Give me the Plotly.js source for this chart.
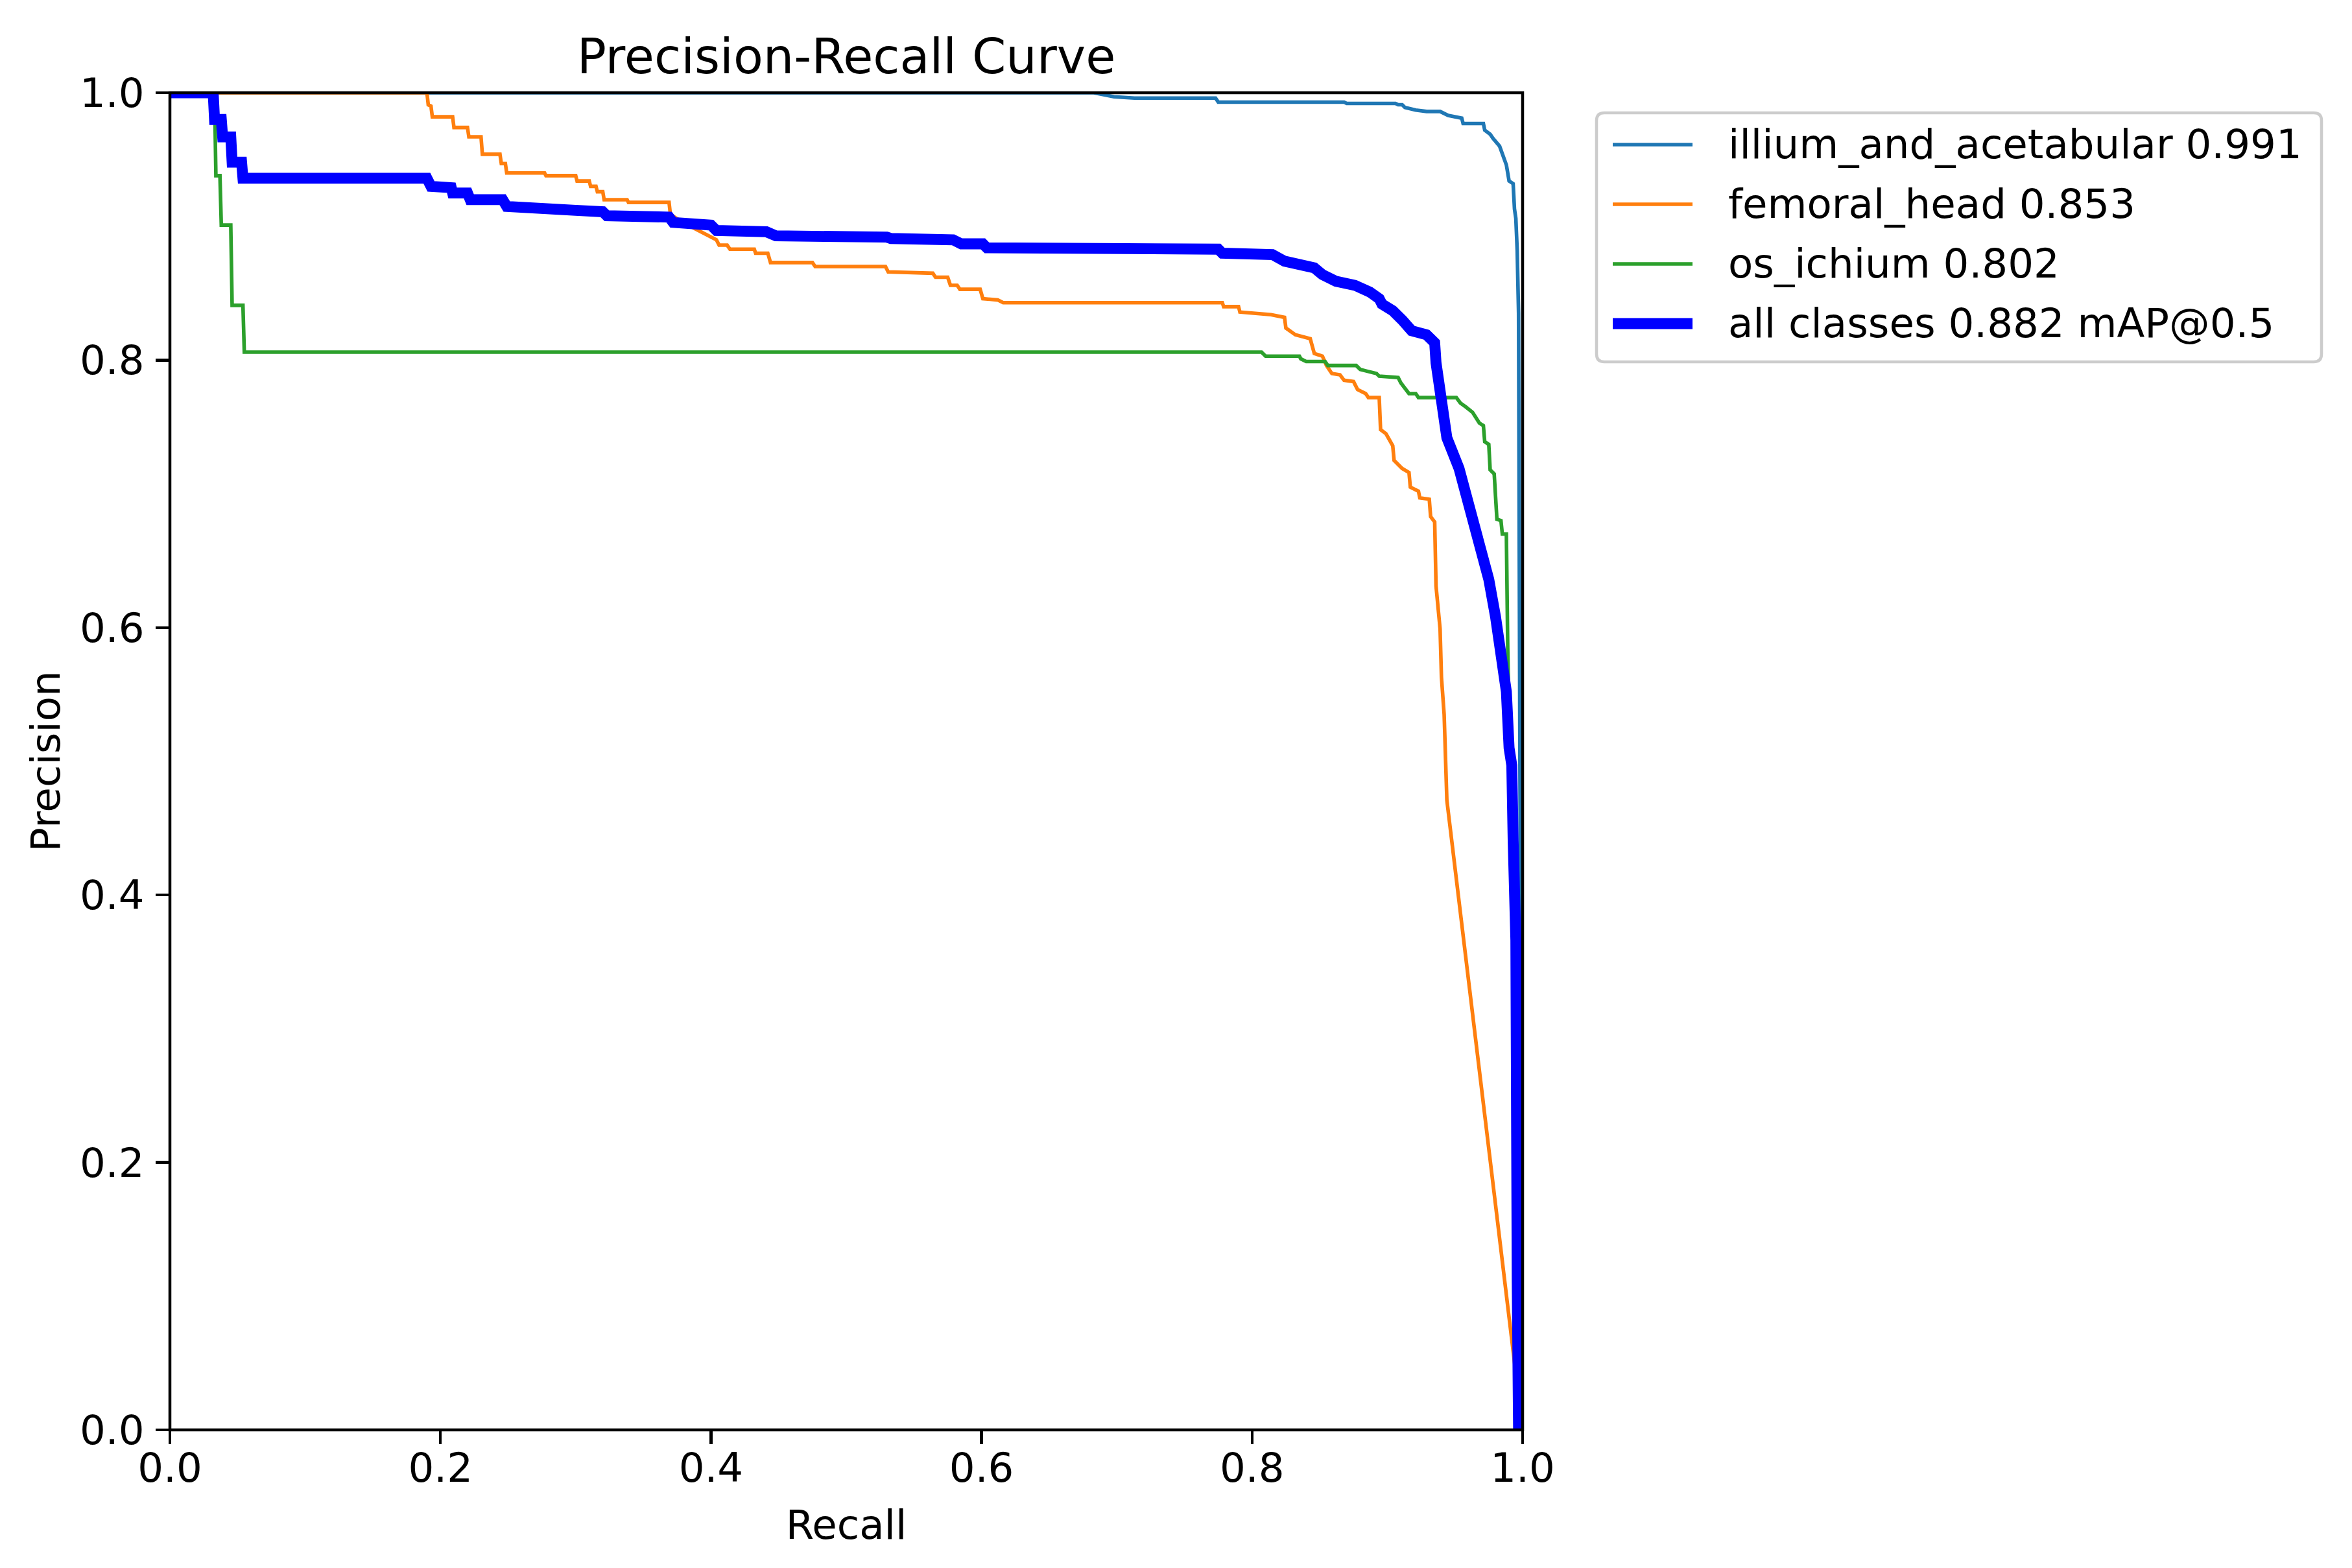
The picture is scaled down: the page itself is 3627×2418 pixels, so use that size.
<!DOCTYPE html>
<html>
<head>
<meta charset="utf-8">
<script src="https://cdn.plot.ly/plotly-3.0.1.min.js"></script>
<style>body{margin:0;background:#fff}</style>
</head>
<body>
<div id="pr-chart"></div>
<script>
// per-class precision/recall points
var classNames = ['illium_and_acetabular', 'femoral_head', 'os_ichium'];
var classAP = [0.991, 0.853, 0.802];
var meanAP = 0.882;
var classColors = ['#1f77b4', '#ff7f0e', '#2ca02c'];

var illiumRecall = [0, 0.683, 0.698, 0.713, 0.773, 0.775, 0.868, 0.870, 0.906, 0.908, 0.911, 0.913, 0.921, 0.929, 0.939, 0.945, 0.955, 0.956, 0.971, 0.972, 0.976, 0.978, 0.983, 0.986, 0.988, 0.990, 0.993, 0.994, 0.995, 0.996, 0.997, 0.998, 1.0];
var illiumPrecision = [1.0, 1.0, 0.997, 0.996, 0.996, 0.993, 0.993, 0.992, 0.992, 0.991, 0.991, 0.989, 0.987, 0.986, 0.986, 0.983, 0.981, 0.977, 0.977, 0.972, 0.969, 0.966, 0.960, 0.951, 0.946, 0.934, 0.932, 0.913, 0.906, 0.882, 0.835, 0.5, 0.0];

var femoralRecall = [0, 0.190, 0.191, 0.193, 0.194, 0.209, 0.210, 0.220, 0.221, 0.230, 0.231, 0.244, 0.245, 0.248, 0.249, 0.277, 0.278, 0.300, 0.301, 0.310, 0.311, 0.315, 0.316, 0.320, 0.321, 0.338, 0.339, 0.369, 0.370, 0.376, 0.385, 0.395, 0.404, 0.406, 0.412, 0.414, 0.432, 0.433, 0.442, 0.444, 0.475, 0.477, 0.529, 0.531, 0.564, 0.566, 0.575, 0.577, 0.582, 0.584, 0.599, 0.601, 0.612, 0.616, 0.778, 0.779, 0.790, 0.791, 0.814, 0.824, 0.825, 0.832, 0.843, 0.846, 0.852, 0.855, 0.859, 0.865, 0.868, 0.875, 0.878, 0.884, 0.886, 0.894, 0.895, 0.899, 0.904, 0.905, 0.911, 0.916, 0.917, 0.923, 0.924, 0.931, 0.932, 0.935, 0.936, 0.939, 0.940, 0.942, 0.944, 1.0];
var femoralPrecision = [1.0, 1.0, 0.991, 0.990, 0.982, 0.982, 0.974, 0.974, 0.967, 0.967, 0.954, 0.954, 0.947, 0.947, 0.940, 0.940, 0.938, 0.938, 0.934, 0.934, 0.930, 0.930, 0.926, 0.926, 0.920, 0.920, 0.918, 0.918, 0.909, 0.905, 0.900, 0.895, 0.890, 0.886, 0.886, 0.883, 0.883, 0.880, 0.880, 0.873, 0.873, 0.870, 0.870, 0.866, 0.865, 0.862, 0.862, 0.856, 0.856, 0.853, 0.853, 0.846, 0.845, 0.843, 0.843, 0.840, 0.840, 0.836, 0.834, 0.832, 0.824, 0.819, 0.816, 0.805, 0.803, 0.796, 0.790, 0.789, 0.785, 0.784, 0.778, 0.775, 0.772, 0.772, 0.748, 0.745, 0.736, 0.725, 0.719, 0.716, 0.705, 0.702, 0.697, 0.696, 0.683, 0.679, 0.631, 0.599, 0.563, 0.535, 0.471, 0.0];

var ichiumRecall = [0, 0.033, 0.034, 0.037, 0.038, 0.045, 0.046, 0.054, 0.055, 0.807, 0.810, 0.835, 0.836, 0.840, 0.854, 0.856, 0.877, 0.880, 0.884, 0.892, 0.894, 0.908, 0.910, 0.914, 0.916, 0.921, 0.923, 0.951, 0.954, 0.958, 0.963, 0.968, 0.971, 0.972, 0.975, 0.976, 0.979, 0.980, 0.981, 0.984, 0.985, 0.988, 0.989, 1.0];
var ichiumPrecision = [1.0, 1.0, 0.938, 0.938, 0.901, 0.901, 0.841, 0.841, 0.806, 0.806, 0.803, 0.803, 0.801, 0.799, 0.799, 0.796, 0.796, 0.793, 0.792, 0.790, 0.788, 0.787, 0.783, 0.777, 0.775, 0.775, 0.772, 0.772, 0.768, 0.765, 0.761, 0.753, 0.751, 0.739, 0.737, 0.718, 0.715, 0.698, 0.681, 0.680, 0.670, 0.670, 0.585, 0.0];

var allRecall = [0, 0.032, 0.033, 0.038, 0.039, 0.045, 0.046, 0.053, 0.054, 0.190, 0.193, 0.208, 0.209, 0.220, 0.222, 0.246, 0.249, 0.298, 0.300, 0.320, 0.323, 0.369, 0.372, 0.400, 0.404, 0.441, 0.448, 0.530, 0.533, 0.579, 0.585, 0.601, 0.604, 0.775, 0.778, 0.815, 0.824, 0.846, 0.852, 0.862, 0.876, 0.887, 0.894, 0.896, 0.904, 0.911, 0.918, 0.929, 0.935, 0.936, 0.938, 0.941, 0.944, 0.953, 0.961, 0.969, 0.975, 0.980, 0.985, 0.988, 0.990, 0.992, 0.993, 0.995, 0.996, 0.997];
var allPrecision = [1.0, 1.0, 0.980, 0.980, 0.967, 0.967, 0.948, 0.948, 0.936, 0.936, 0.930, 0.929, 0.925, 0.925, 0.920, 0.920, 0.915, 0.914, 0.912, 0.911, 0.908, 0.907, 0.903, 0.901, 0.897, 0.896, 0.893, 0.892, 0.891, 0.890, 0.887, 0.887, 0.884, 0.883, 0.880, 0.879, 0.874, 0.869, 0.864, 0.859, 0.856, 0.851, 0.846, 0.842, 0.837, 0.830, 0.822, 0.819, 0.813, 0.798, 0.780, 0.761, 0.742, 0.719, 0.691, 0.663, 0.636, 0.608, 0.580, 0.552, 0.510, 0.497, 0.441, 0.366, 0.112, 0.0];

var tickValues = [0, 0.2, 0.4, 0.6, 0.8, 1.0];
var tickLabels = ['0.0', '0.2', '0.4', '0.6', '0.8', '1.0'];

// figure geometry (pixels), matches a 9x6in matplotlib figure
var W = 3627, H = 2418;
var box = {l: 262, r: 2348, t: 143, b: 2205};
var FONT = 'DejaVu Sans';
var fs = 62.6;

function fx(px) { return (px - box.l) / (box.r - box.l); }
function fy(py) { return (box.b - py) / (box.b - box.t); }

var recalls = [illiumRecall, femoralRecall, ichiumRecall];
var precisions = [illiumPrecision, femoralPrecision, ichiumPrecision];

var traces = [];
for (var i = 0; i < classNames.length; i++) {
    traces.push({
        x: recalls[i], y: precisions[i], type: 'scatter', mode: 'lines',
        line: {color: classColors[i], width: 5.6},
        name: classNames[i] + ' ' + classAP[i].toFixed(3),
        hoverinfo: 'skip'
    });
}
traces.push({
    x: allRecall, y: allPrecision, type: 'scatter', mode: 'lines',
    line: {color: '#0000ff', width: 16.8},
    name: 'all classes ' + meanAP.toFixed(3) + ' mAP@0.5',
    hoverinfo: 'skip'
});

var shapes = [];
var annotations = [];

// axes frame centred on the plot edge, drawn over the curves like matplotlib spines
shapes.push({
    type: 'rect', xref: 'paper', yref: 'paper', x0: 0, x1: 1, y0: 0, y1: 1,
    line: {color: '#000', width: 4.5}, layer: 'above'
});

// legend drawn by hand so handle length and spacing follow matplotlib
var lg = {l: 2462, r: 3580, t: 174, b: 558, rad: 12};
var rx = lg.rad / (box.r - box.l), ry = lg.rad / (box.b - box.t);
var L = fx(lg.l), R = fx(lg.r), T = fy(lg.t), B = fy(lg.b);
shapes.push({
    type: 'path', xref: 'paper', yref: 'paper',
    path: 'M' + (L + rx) + ',' + T + ' L' + (R - rx) + ',' + T +
          ' Q' + R + ',' + T + ' ' + R + ',' + (T - ry) +
          ' L' + R + ',' + (B + ry) +
          ' Q' + R + ',' + B + ' ' + (R - rx) + ',' + B +
          ' L' + (L + rx) + ',' + B +
          ' Q' + L + ',' + B + ' ' + L + ',' + (B + ry) +
          ' L' + L + ',' + (T - ry) +
          ' Q' + L + ',' + T + ' ' + (L + rx) + ',' + T + ' Z',
    line: {color: '#cccccc', width: 4.5},
    fillcolor: 'rgba(255,255,255,0.8)'
});
for (var k = 0; k < traces.length; k++) {
    var rowY = fy(223 + k * 92);
    shapes.push({
        type: 'line', xref: 'paper', yref: 'paper',
        x0: fx(2487), x1: fx(2610), y0: rowY, y1: rowY,
        line: {color: traces[k].line.color, width: traces[k].line.width}
    });
    annotations.push({
        xref: 'paper', yref: 'paper', x: fx(2663), y: rowY,
        xanchor: 'left', yanchor: 'middle', showarrow: false,
        text: traces[k].name,
        font: {family: FONT, size: fs, color: '#000'}
    });
}

var axisStyle = {
    range: [0, 1], tickvals: tickValues, ticktext: tickLabels,
    showgrid: false, zeroline: false, showline: false,
    ticks: 'outside', ticklen: 21, tickwidth: 4.5, tickcolor: '#000',
    tickfont: {family: FONT, size: fs, color: '#000'},
    fixedrange: true, automargin: false
};

var layout = {
    width: W, height: H,
    margin: {l: box.l, r: W - box.r, t: box.t, b: H - box.b, pad: 0},
    paper_bgcolor: '#fff', plot_bgcolor: '#fff',
    font: {family: FONT, color: '#000'},
    showlegend: false,
    title: {
        text: 'Precision-Recall Curve',
        font: {family: FONT, size: 75, color: '#000'},
        xref: 'paper', x: 0.5, xanchor: 'center',
        yref: 'paper', y: 1, yanchor: 'bottom', pad: {b: 30}
    },
    xaxis: Object.assign({}, axisStyle, {
        title: {text: 'Recall', font: {family: FONT, size: fs, color: '#000'}, standoff: 30},
        ticklabelstandoff: -17
    }),
    yaxis: Object.assign({}, axisStyle, {
        title: {text: 'Precision', font: {family: FONT, size: fs, color: '#000'}, standoff: 10},
        ticklabelstandoff: 5
    }),
    shapes: shapes,
    annotations: annotations
};

Plotly.newPlot('pr-chart', traces, layout, {displayModeBar: false, staticPlot: true});
</script>
</body>
</html>
